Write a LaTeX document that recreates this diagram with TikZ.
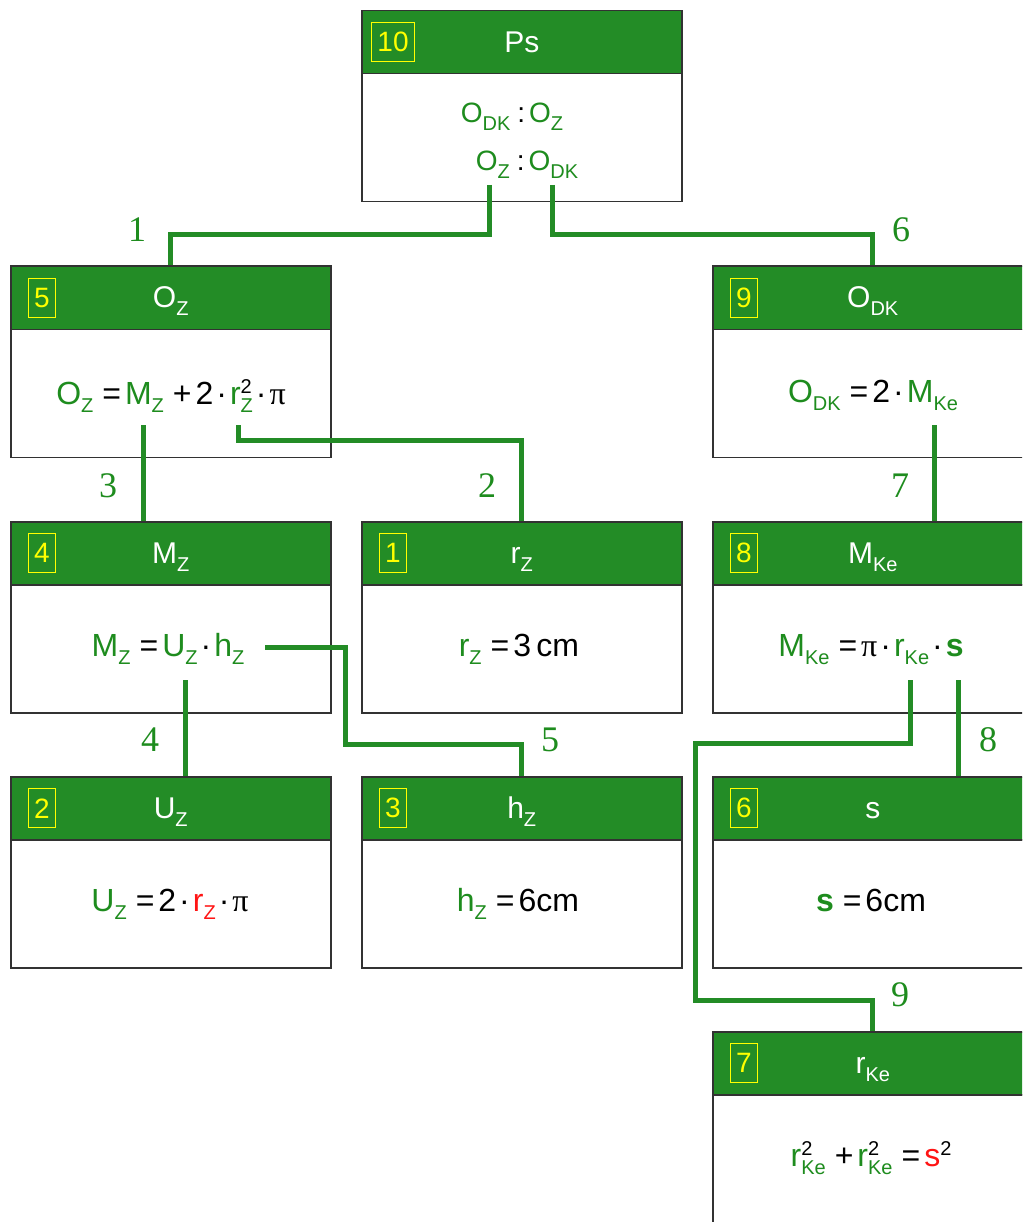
\documentclass[tikz,border=0pt]{standalone}
\usepackage{fontspec}
\setmainfont{Liberation Sans}
\newfontfamily\lserif{Liberation Serif}
\definecolor{hg}{RGB}{35,140,38}
\definecolor{tg}{RGB}{30,140,30}
\definecolor{yl}{RGB}{255,255,0}
\definecolor{rd}{RGB}{255,20,20}
\definecolor{bord}{RGB}{50,50,50}
\newcommand{\G}[1]{\textcolor{tg}{#1}}
\newcommand{\R}[1]{\textcolor{rd}{#1}}
\newcommand{\sbx}[1]{\raisebox{-8pt}{\fontsize{20}{20}\selectfont #1}}
\newcommand{\spx}[1]{\raisebox{11pt}{\fontsize{20}{20}\selectfont #1}}
\newcommand{\ssx}[2]{\rlap{\spx{#2}}\sbx{#1}}
\newcommand{\op}[1]{\hspace{9pt}#1\hspace{4pt}}
\newcommand{\cdt}{\hspace{3pt}·\hspace{3pt}}
\newcommand{\pii}{{\lserif π}}
\tikzset{
  hdr/.style={rectangle, draw=bord, fill=hg, line width=1.5pt, minimum width=320pt, minimum height=63pt, inner sep=0pt, anchor=north west},
  bdy/.style={rectangle, draw=bord, fill=white, line width=1.5pt, minimum width=320pt, minimum height=128pt, inner sep=0pt, anchor=north west},
  numbox/.style={rectangle, draw=yl, text=yl, line width=1.3pt, inner xsep=6pt, inner ysep=0pt, minimum height=39pt, font=\fontsize{28}{30}\selectfont},
  ttl/.style={text=white, anchor=base, inner sep=0pt, font=\fontsize{30}{36}\selectfont},
  frm/.style={anchor=base, inner sep=0pt, font=\fontsize{32}{38}\selectfont},
  frmsmall/.style={anchor=base, inner sep=0pt, font=\fontsize{28}{32}\selectfont},
  conn/.style={draw=hg, line width=5pt, line join=miter},
  clab/.style={text=tg, inner sep=0pt, font=\lserif\fontsize{36}{40}\selectfont}
}
\newcommand{\mkbox}[5]{%
  \node[bdy] (#1b) at (#2,#3+63) {};
  \node[hdr] (#1h) at (#2,#3) {};
  \node[numbox] (#1n) at ([xshift=32pt]#1h.west) {#4};
  \node[ttl] (#1t) at ([yshift=-10pt]#1h.center) {#5};
}
\begin{document}
\begin{tikzpicture}[x=1pt,y=-1pt]
\useasboundingbox (0,0) rectangle (1022,1222);
\clip (0,0) rectangle (1022,1222);
% boxes
\mkbox{k10}{361}{10}{10}{Ps}
\mkbox{k5}{10}{265.5}{5}{O\sbx{Z}}
\mkbox{k9}{712}{265.5}{9}{O\sbx{DK}}
\mkbox{k4}{10}{521}{4}{M\sbx{Z}}
\mkbox{k1}{361}{521}{1}{r\sbx{Z}}
\mkbox{k8}{712}{521}{8}{M\sbx{Ke}}
\mkbox{k2}{10}{776}{2}{U\sbx{Z}}
\mkbox{k3}{361}{776}{3}{h\sbx{Z}}
\mkbox{k6}{712}{776}{6}{s}
\mkbox{k7}{712}{1031}{7}{r\sbx{Ke}}
% formulas
\node[frmsmall] (f10a) at (512,123) {\G{O\sbx{DK}}\hspace{7pt}:\hspace{4pt}\G{O\sbx{Z}}};
\node[frmsmall] (f10b) at (527,171) {\G{O\sbx{Z}}\hspace{7pt}:\hspace{4pt}\G{O\sbx{DK}}};
\node[frm] (f5) at (171,404) {\G{O\sbx{Z}}\op{=}\G{M\sbx{Z}}\op{+}2\cdt\G{r}\ssx{\G{Z}}{2}\cdt\pii};
\node[frm] (f9) at (873,402) {\G{O\sbx{DK}}\op{=}2\cdt\G{M\sbx{Ke}}};
\node[frm] (f4) at (168,656) {\G{M\sbx{Z}}\op{=}\G{U\sbx{Z}}\cdt\G{h\sbx{Z}}};
\node[frm] (f1) at (519,656) {\G{r\sbx{Z}}\op{=}3\,cm};
\node[frm] (f8) at (871,656) {\G{M\sbx{Ke}}\op{=}\pii\cdt\G{r\sbx{Ke}}\cdt\G{\textbf{s}}};
\node[frm] (f2) at (170,911) {\G{U\sbx{Z}}\op{=}2\cdt\R{r\sbx{Z}}\cdt\pii};
\node[frm] (f3) at (518,911) {\G{h\sbx{Z}}\op{=}6cm};
\node[frm] (f6) at (871,911) {\G{\textbf{s}}\op{=}6cm};
\node[frm] (f7) at (871,1166) {\G{r}\ssx{\G{Ke}}{2}\op{+}\G{r}\ssx{\G{Ke}}{2}\op{=}\R{s}\spx{2}};
% connector start points
\coordinate (s1) at (489,185);
\coordinate (s6) at (552,185);
\coordinate (s3) at (143,425);
\coordinate (s2) at (238,425);
\coordinate (s7) at (934,425);
\coordinate (s4) at (185,680);
\coordinate (s5) at (265,647);
\coordinate (s8) at (958,680);
\coordinate (s9) at (910,680);
% connectors
\draw[conn] (s1) |- ([yshift=31pt]k5h.north) -- (k5h.north);
\draw[conn] (s6) |- ([yshift=31pt]k9h.north) -- (k9h.north);
\draw[conn] (s3) -- (s3 |- k4h.north);
\draw[conn] (s2) |- ([yshift=81pt]k1h.north) -- (k1h.north);
\draw[conn] (s7) -- (s7 |- k8h.north);
\draw[conn] (s4) -- (s4 |- k2h.north);
\draw[conn] (s5) -- ++(80,0) |- ([yshift=32pt]k3h.north) -- (k3h.north);
\draw[conn] (s8) -- (s8 |- k6h.north);
\draw[conn] (s9) -- ++(0,63) -- ++(-215,0) |- ([yshift=31pt]k7h.north) -- (k7h.north);
% connector labels
\node[clab] (l1) at (137,230) {1};
\node[clab] (l6) at (901,230) {6};
\node[clab] (l3) at (108,486) {3};
\node[clab] (l2) at (487,486) {2};
\node[clab] (l7) at (900,486) {7};
\node[clab] (l4) at (150,740) {4};
\node[clab] (l5) at (550,740) {5};
\node[clab] (l8) at (988,740) {8};
\node[clab] (l9) at (900,995) {9};
\end{tikzpicture}
\end{document}
